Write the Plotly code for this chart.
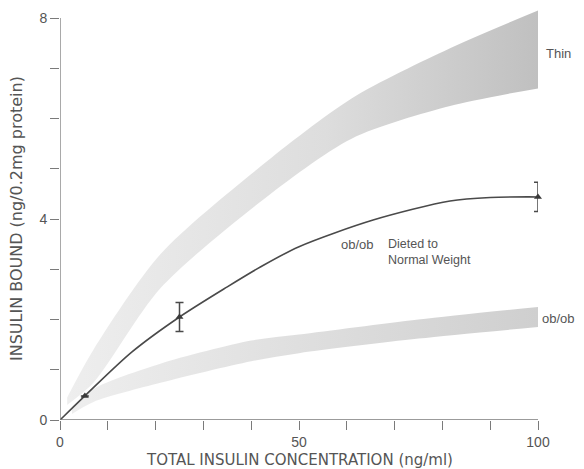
import plotly.graph_objects as go

# --- data ---
thin_x = [1.5, 7, 21, 42, 61, 81.6, 100]
thin_upper = [0.45, 1.4, 3.3, 5.05, 6.4, 7.4, 8.15]
thin_lower = [0.3, 0.74, 2.62, 4.35, 5.6, 6.25, 6.6]

obob_x = [2.5, 7, 21, 40, 50, 75, 100]
obob_upper = [0.25, 0.62, 1.12, 1.58, 1.7, 2.0, 2.25]
obob_lower = [0.12, 0.36, 0.74, 1.17, 1.33, 1.62, 1.85]

curve_x = [0, 5.2, 15, 25, 35, 42, 50, 65.5, 81.6, 90, 100]
curve_y = [0, 0.48, 1.35, 2.05, 2.65, 3.05, 3.45, 3.98, 4.36, 4.43, 4.44]

pts_x = [5.2, 25, 100]
pts_y = [0.48, 2.05, 4.44]
pts_err = [0, 0.29, 0.29]

x_ticks = [0, 10, 20, 30, 40, 50, 60, 70, 80, 90, 100]
x_ticktext = ["0", "", "", "", "", "50", "", "", "", "", "100"]
y_ticks = [0, 1, 2, 3, 4, 5, 6, 7, 8]
y_ticktext = ["0", "", "", "", "4", "", "", "", "8"]

FONT = "Liberation Sans, Arial, sans-serif"
TITLE_FONT = "DejaVu Sans, sans-serif"
TXT = "#555555"
AX = "#7a7a7a"

fig = go.Figure()

# Thin band
fig.add_trace(go.Scatter(x=thin_x, y=thin_lower, mode="lines",
                         line=dict(width=0, shape="spline", smoothing=0.8),
                         showlegend=False, hoverinfo="skip"))
fig.add_trace(go.Scatter(x=thin_x, y=thin_upper, mode="lines",
                         line=dict(width=0, shape="spline", smoothing=0.8),
                         fill="tonexty",
                         fillgradient=dict(type="horizontal",
                                           colorscale=[[0, "#eeeeee"], [0.55, "#dddddd"], [1, "#c0c0c0"]]),
                         showlegend=False, hoverinfo="skip"))

# ob/ob band
fig.add_trace(go.Scatter(x=obob_x, y=obob_lower, mode="lines",
                         line=dict(width=0, shape="spline", smoothing=0.8),
                         showlegend=False, hoverinfo="skip"))
fig.add_trace(go.Scatter(x=obob_x, y=obob_upper, mode="lines",
                         line=dict(width=0, shape="spline", smoothing=0.8),
                         fill="tonexty",
                         fillgradient=dict(type="horizontal",
                                           colorscale=[[0, "#eeeeee"], [1, "#cfcfcf"]]),
                         showlegend=False, hoverinfo="skip"))

# fitted curve
fig.add_trace(go.Scatter(x=curve_x, y=curve_y, mode="lines",
                         line=dict(color="#4a4a4a", width=1.6, shape="spline", smoothing=0.8),
                         showlegend=False, hoverinfo="skip"))

# data points with error bars
fig.add_trace(go.Scatter(x=pts_x, y=pts_y, mode="markers",
                         marker=dict(symbol="triangle-up", size=7, color="#3a3a3a"),
                         error_y=dict(type="data", array=pts_err, visible=True,
                                      color="#4a4a4a", thickness=1.5, width=4),
                         showlegend=False, cliponaxis=False))

# axis lines (y axis stops at 8)
fig.add_shape(type="line", xref="x", yref="y", x0=0, x1=0, y0=0, y1=8,
              line=dict(color=AX, width=1.3))
fig.add_shape(type="line", xref="x", yref="y", x0=0, x1=100, y0=0, y1=0,
              line=dict(color=AX, width=1.3))

ann_font = dict(family=FONT, size=13, color=TXT)
fig.add_annotation(x=100, y=7.3, xref="x", yref="y", text="Thin", showarrow=False,
                   xanchor="left", xshift=6, font=ann_font)
fig.add_annotation(x=100, y=2.02, xref="x", yref="y", text="ob/ob", showarrow=False,
                   xanchor="left", xshift=2, font=ann_font)
fig.add_annotation(x=58.4, y=3.49, xref="x", yref="y", text="ob/ob", showarrow=False,
                   xanchor="left", font=ann_font)
fig.add_annotation(x=68.3, y=3.34, xref="x", yref="y", text="Dieted to<br>Normal Weight",
                   showarrow=False, xanchor="left", align="left",
                   font=dict(family=FONT, size=12.5, color=TXT))

# axis titles
fig.add_annotation(x=0.5, y=0, xref="paper", yref="paper", yanchor="middle",
                   yshift=-40, text="TOTAL INSULIN CONCENTRATION (ng/ml)", showarrow=False,
                   font=dict(family=TITLE_FONT, size=15, color=TXT))
fig.add_annotation(x=0, y=4, xref="paper", yref="y", xanchor="center",
                   xshift=-44, textangle=-90, text="INSULIN BOUND (ng/0.2mg protein)",
                   showarrow=False, font=dict(family=TITLE_FONT, size=16, color=TXT))

fig.update_layout(
    width=584, height=469,
    margin=dict(l=60, r=46, t=3, b=49, autoexpand=False),
    paper_bgcolor="white", plot_bgcolor="white",
    font=dict(family=FONT, color=TXT, size=13),
    xaxis=dict(range=[0, 100], tickvals=x_ticks, ticktext=x_ticktext, automargin=False,
               ticks="outside", ticklen=9, tickcolor=AX, tickwidth=1.2,
               showgrid=False, zeroline=False, showline=False,
               tickfont=dict(size=14, color=TXT)),
    yaxis=dict(range=[0, 8.3], tickvals=y_ticks, ticktext=y_ticktext, automargin=False,
               ticks="outside", ticklen=9, tickcolor=AX, tickwidth=1.2,
               showgrid=False, zeroline=False, showline=False,
               tickfont=dict(size=14, color=TXT)),
)

fig.write_html("out.html", config={"displayModeBar": False},
               post_script="document.body.style.margin='0';document.body.style.overflow='hidden';")
